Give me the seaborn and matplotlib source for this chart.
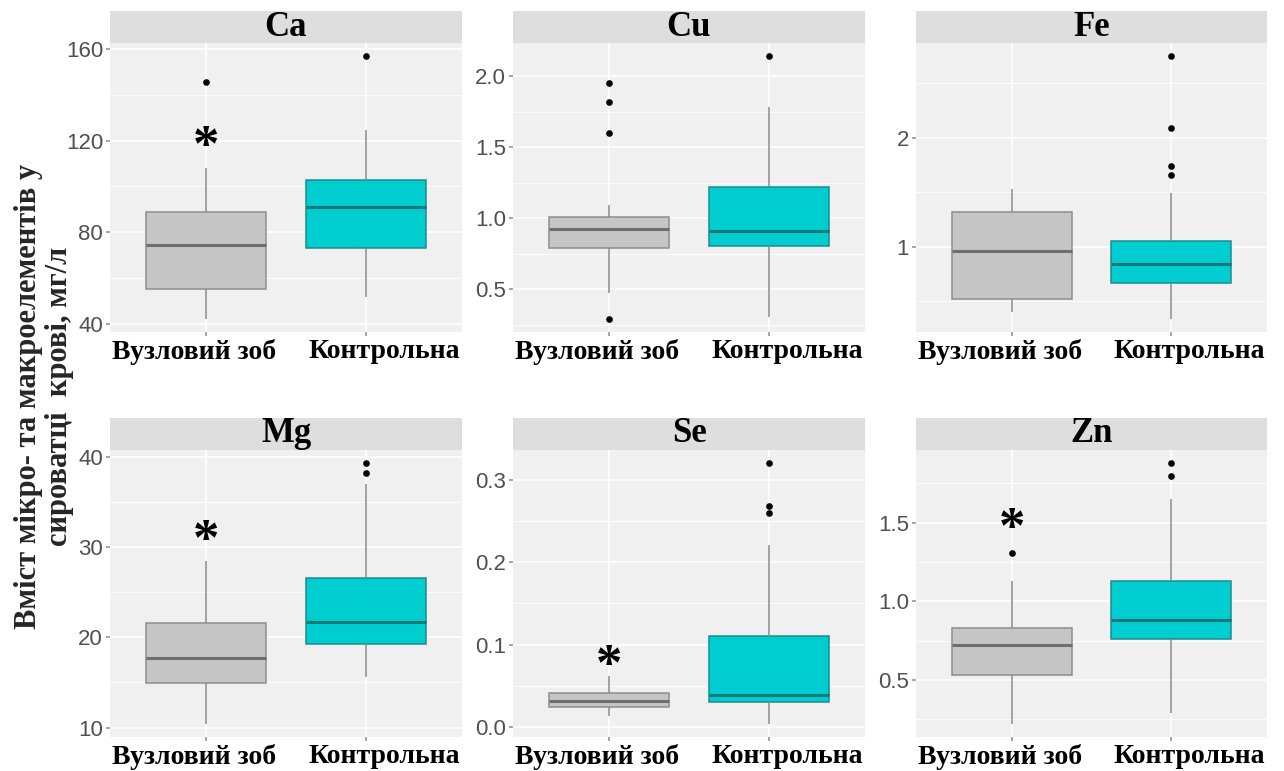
import seaborn as sns
import matplotlib.pyplot as plt
import pandas as pd
from matplotlib.patches import Rectangle
from matplotlib.ticker import FixedLocator, MultipleLocator
from matplotlib.transforms import ScaledTranslation

# groups and elements of the facet grid
groups = ["Вузловий зоб", "Контрольна"]
elements = ["Ca", "Cu", "Fe", "Mg", "Se", "Zn"]

# box summaries: whisker low, Q1, median, Q3, whisker high
ca_nodular = [42.2, 55.4, 74.4, 89.0, 108.0]
ca_control = [51.7, 72.9, 90.8, 102.6, 124.6]
cu_nodular = [0.47, 0.79, 0.92, 1.01, 1.09]
cu_control = [0.30, 0.80, 0.91, 1.22, 1.78]
fe_nodular = [0.40, 0.52, 0.96, 1.32, 1.53]
fe_control = [0.34, 0.67, 0.84, 1.05, 1.49]
mg_nodular = [10.4, 14.9, 17.7, 21.6, 28.5]
mg_control = [15.6, 19.3, 21.7, 26.6, 37.0]
se_nodular = [0.014, 0.024, 0.032, 0.041, 0.062]
se_control = [0.004, 0.030, 0.039, 0.110, 0.221]
zn_nodular = [0.22, 0.53, 0.72, 0.83, 1.13]
zn_control = [0.29, 0.76, 0.88, 1.13, 1.65]

# outliers
ca_out_nodular = [145.7]
ca_out_control = [156.8]
cu_out_nodular = [1.95, 1.82, 1.60, 0.29]
cu_out_control = [2.14]
fe_out_nodular = []
fe_out_control = [2.75, 2.09, 1.74, 1.66]
mg_out_nodular = []
mg_out_control = [39.3, 38.2]
se_out_nodular = []
se_out_control = [0.320, 0.268, 0.260]
zn_out_nodular = [1.31]
zn_out_control = [1.88, 1.80]

# significance marks (above the nodular group)
star_elements = ["Ca", "Mg", "Se", "Zn"]
star_values = [121, 31.7, 0.085, 1.515]

# y tick labels of every panel
ca_ticks = ["40", "80", "120", "160"]
cu_ticks = ["0.5", "1.0", "1.5", "2.0"]
fe_ticks = ["1", "2"]
mg_ticks = ["10", "20", "30", "40"]
se_ticks = ["0.0", "0.1", "0.2", "0.3"]
zn_ticks = ["0.5", "1.0", "1.5"]

boxes = {"Ca": (ca_nodular, ca_control), "Cu": (cu_nodular, cu_control),
         "Fe": (fe_nodular, fe_control), "Mg": (mg_nodular, mg_control),
         "Se": (se_nodular, se_control), "Zn": (zn_nodular, zn_control)}
outliers = {"Ca": (ca_out_nodular, ca_out_control), "Cu": (cu_out_nodular, cu_out_control),
            "Fe": (fe_out_nodular, fe_out_control), "Mg": (mg_out_nodular, mg_out_control),
            "Se": (se_out_nodular, se_out_control), "Zn": (zn_out_nodular, zn_out_control)}
ticks = {"Ca": ca_ticks, "Cu": cu_ticks, "Fe": fe_ticks,
         "Mg": mg_ticks, "Se": se_ticks, "Zn": zn_ticks}

sns.set_theme(style="darkgrid", rc={
    "axes.facecolor": "#F0F0F0", "grid.color": "white",
    "xtick.bottom": True, "ytick.left": True,
    "xtick.major.size": 3, "ytick.major.size": 3,
    "xtick.minor.size": 0, "ytick.minor.size": 0,
    "xtick.major.pad": 2, "ytick.major.pad": 2,
    "xtick.color": "#999999", "ytick.color": "#999999",
})
plt.rcParams["font.family"] = ["Liberation Serif", "DejaVu Serif"]

fill_colors = ["#C6C6C6", "#00CDD0"]
edge_colors = ["#8E8E8E", "#1B8E8E"]
median_colors = ["#6E6E6E", "#12787A"]

fig = plt.figure(figsize=(12.84, 7.71), dpi=100)
W, H = 1284, 771
col_x = [(110, 462), (513, 865), (916, 1267)]
row_y = [(43, 332), (450, 737)]
strip_px = 32
label_shift = [-0.12, 0.18]   # inches, the group labels sit a bit apart

for i, el in enumerate(elements):
    r, c = divmod(i, 3)
    x0, x1 = col_x[c]
    y0, y1 = row_y[r]
    ax = fig.add_axes([x0 / W, 1 - y1 / H, (x1 - x0) / W, (y1 - y0) / H])
    ax.set_axisbelow(True)

    for g in range(2):
        vals = boxes[el][g]
        df = pd.DataFrame({"group": [groups[g]] * len(vals), "value": vals})
        sns.boxplot(data=df, x="group", y="value", order=groups, ax=ax,
                    whis=(0, 100), width=0.75, saturation=1,
                    color=fill_colors[g], linecolor=edge_colors[g], linewidth=1.1,
                    showcaps=False,
                    whiskerprops=dict(color="#8A8A8A", linewidth=1.1),
                    medianprops=dict(color=median_colors[g], linewidth=2.2))
        outs = outliers[el][g]
        if outs:
            sns.stripplot(x=[groups[g]] * len(outs), y=outs, order=groups, ax=ax,
                          jitter=False, color="black", size=4.8, zorder=5)

    # ggplot-like 5% expansion of the data range
    allv = boxes[el][0] + boxes[el][1] + outliers[el][0] + outliers[el][1]
    lo, hi = min(allv), max(allv)
    pad = (hi - lo) * 0.05
    ax.set_ylim(lo - pad, hi + pad)
    ax.set_xlim(-0.6, 1.6)

    tick_vals = [float(t) for t in ticks[el]]
    ax.yaxis.set_major_locator(FixedLocator(tick_vals))
    ax.set_yticklabels(ticks[el], family="Liberation Sans", fontsize=16, color="#505050")
    step = tick_vals[1] - tick_vals[0]
    ax.yaxis.set_minor_locator(MultipleLocator(step / 2, offset=step / 2))
    ax.grid(which="minor", axis="y", color="white", linewidth=0.6)
    ax.grid(which="major", color="white", linewidth=1.2)
    ax.tick_params(axis="both", which="minor", length=0)
    ax.set_xticks([0, 1])
    ax.set_xticklabels(groups, fontsize=20, fontweight="bold", color="black")
    for lab, dx in zip(ax.get_xticklabels(), label_shift):
        lab.set_transform(lab.get_transform() + ScaledTranslation(dx, 0, fig.dpi_scale_trans))
    ax.set_xlabel("")
    ax.set_ylabel("")
    for s in ax.spines.values():
        s.set_visible(False)

    sh = strip_px / (y1 - y0)
    ax.add_patch(Rectangle((0, 1), 1, sh, transform=ax.transAxes,
                           facecolor="#DEDEDE", edgecolor="none", clip_on=False))
    ax.text(0.5, 1 + sh / 2, el, transform=ax.transAxes, ha="center", va="center",
            fontsize=25, fontweight="bold", color="black")

    if el in star_elements:
        star_tr = ax.transData + ScaledTranslation(0, -0.1, fig.dpi_scale_trans)
        ax.text(0, star_values[star_elements.index(el)], "*", transform=star_tr,
                ha="center", va="center", fontsize=38, fontweight="bold", color="black")

fig.text(44 / W, 0.486, "Вміст мікро- та макроелементів у\nсироватці  крові, мг/л",
         rotation=90, ha="center", va="center", multialignment="center",
         fontsize=22, fontweight="bold", linespacing=1.12)

fig.savefig("out.png", dpi=100)
